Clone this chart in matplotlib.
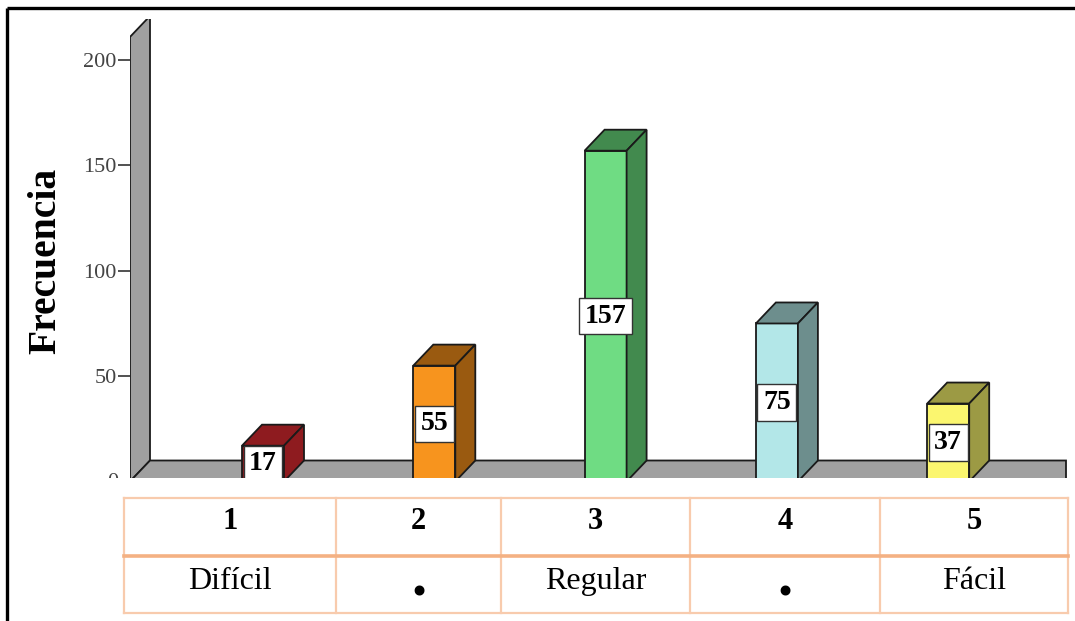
import matplotlib.pyplot as plt
from matplotlib.patches import Polygon, Rectangle

# Frecuencia por categoría
categorias = [1, 2, 3, 4, 5]
frecuencias = [17, 55, 157, 75, 37]
etiquetas = ['Difícil', '.', 'Regular', '.', 'Fácil']

cara_frontal = ['#8e1b1f', '#f7941e', '#6fdc83', '#b3e7e8', '#fbf66f']
cara_lateral = ['#8e1b1f', '#9a5a10', '#428a4e', '#6d8e8d', '#9c9a44']

SERIF = 'Liberation Serif'
W, H = 1075, 621

fig = plt.figure(figsize=(W / 100, H / 100), dpi=100)

# capa de fondo en píxeles: marco y tabla inferior
fondo = fig.add_axes([0, 0, 1, 1], zorder=0)
fondo.set_xlim(0, W)
fondo.set_ylim(H, 0)
fondo.axis('off')

fondo.plot([7, W], [8, 8], color='black', lw=2.4, solid_capstyle='butt')
fondo.plot([7, 7], [8, H], color='black', lw=2.4, solid_capstyle='butt')

cols = [124, 336, 501, 690, 880, 1068]
t_top, t_mid, t_bot = 498, 556, 613
borde = '#f8cbad'
for x in cols:
    fondo.plot([x, x], [t_top, t_bot], color=borde, lw=1.6)
fondo.plot([cols[0], cols[-1]], [t_top, t_top], color=borde, lw=1.6)
fondo.plot([cols[0], cols[-1]], [t_bot, t_bot], color=borde, lw=1.6)
fondo.plot([cols[0], cols[-1]], [t_mid, t_mid], color='#f4b183', lw=2.6)

for k, (c, et) in enumerate(zip(categorias, etiquetas)):
    xc = (cols[k] + cols[k + 1]) / 2
    fondo.text(xc, 529, str(c), ha='center', va='baseline',
               fontsize=22, fontweight='bold', family=SERIF)
    if et == '.':
        fondo.text(xc, 596, et, ha='center', va='baseline',
                   fontsize=44, fontweight='bold', family=SERIF)
    else:
        fondo.text(xc, 589, et, ha='center', va='baseline',
                   fontsize=23, family=SERIF)

fig.text(46 / W, 1 - 261 / H, 'Frecuencia', rotation=90, ha='center',
         va='center', fontsize=28.5, fontweight='bold', family=SERIF)

# gráfico de barras con efecto 3D
ax_l, ax_r, ax_b, ax_t = 130, 1070, 478, 19
ax = fig.add_axes([ax_l / W, 1 - ax_b / H, (ax_r - ax_l) / W, (ax_b - ax_t) / H],
                  zorder=1)
ax.set_facecolor('none')

px_x = 171.3   # píxeles por categoría
px_y = 2.107   # píxeles por unidad de frecuencia
x0_px, y0_px = 263, 481.5
xmin = 1 + (ax_l - x0_px) / px_x
xmax = 1 + (ax_r - x0_px) / px_x
ax.set_xlim(xmin, xmax)
ax.set_ylim((y0_px - ax_b) / px_y, (y0_px - ax_t) / px_y)

dx = 20 / px_x
dy = 21 / px_y
hw = 21 / px_x
gris = '#a0a0a0'
lw = 1.3
ec = '#1a1a1a'

# pared y piso
techo = 211
x_piso = 1 + (1066 - x0_px) / px_x
ax.add_patch(Polygon([(xmin, 0), (xmin, techo), (xmin + dx, techo + dy), (xmin + dx, dy)],
                     closed=True, fc=gris, ec=ec, lw=lw, zorder=1))
ax.add_patch(Polygon([(xmin, 0), (xmin + dx, dy), (x_piso, dy), (x_piso, 0)],
                     closed=True, fc=gris, ec=ec, lw=lw, zorder=1))

for c, v, fc, sc in zip(categorias, frecuencias, cara_frontal, cara_lateral):
    izq, der = c - hw, c + hw
    ax.add_patch(Polygon([(izq, 0), (der, 0), (der, v), (izq, v)],
                         closed=True, fc=fc, ec=ec, lw=lw, zorder=2))
    ax.add_patch(Polygon([(izq, v), (izq + dx, v + dy), (der + dx, v + dy), (der, v)],
                         closed=True, fc=sc, ec=ec, lw=lw, zorder=2))
    ax.add_patch(Polygon([(der, 0), (der + dx, dy), (der + dx, v + dy), (der, v)],
                         closed=True, fc=sc, ec=ec, lw=lw, zorder=2))
    ax.text(c, v / 2, str(v), ha='center', va='center', fontsize=20,
            fontweight='bold', family=SERIF, zorder=3, clip_on=True,
            bbox=dict(boxstyle='square,pad=0.2', fc='white', ec='#333333', lw=1))

for s in ax.spines.values():
    s.set_visible(False)
ax.set_xticks([])
ax.set_yticks([50, 100, 150, 200])
ax.tick_params(axis='y', direction='out', length=8.6, width=1.2, color='#333333',
               labelsize=16, labelcolor='#444444', pad=1)
for lab in ax.get_yticklabels():
    lab.set_family(SERIF)

# etiqueta del cero, recortada por el borde inferior del gráfico
corte = Rectangle((0, 0), W, ax_b, transform=fondo.transData)
cero = fondo.text(ax_l - 12, y0_px + 1, '0', ha='right', va='center',
                  fontsize=16, color='#444444', family=SERIF)
cero.set_clip_on(True)
cero.set_clip_box(None)
cero.set_clip_path(corte)

fig.savefig('out.png', dpi=100)
